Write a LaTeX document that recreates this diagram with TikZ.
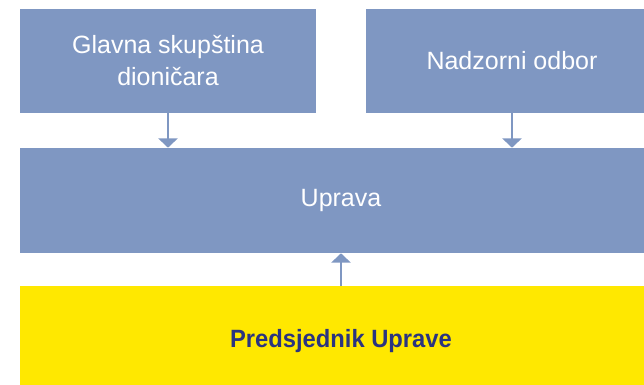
\documentclass[tikz,border=0pt]{standalone}
\usepackage{fontspec}
\setmainfont{Liberation Sans}[BoldFeatures={FakeStretch=0.95}]
\usetikzlibrary{arrows.meta}
\definecolor{boxblue}{RGB}{127,151,194}
\definecolor{boxyellow}{RGB}{255,232,0}
\definecolor{textnavy}{RGB}{43,52,128}

\begin{document}
\begin{tikzpicture}[x=0.75pt,y=-0.75pt,
  orgbox/.style={fill=boxblue,text=white,inner sep=0pt,align=center,
    font=\fontsize{18.75}{24}\selectfont,minimum height=78pt},
  chair/.style={fill=boxyellow,text=textnavy,inner sep=0pt,
    font=\fontsize{18.75}{24}\selectfont\bfseries,minimum height=82.5pt,minimum width=481.5pt},
  conn/.style={draw=boxblue,line width=2pt,-{Triangle[width=14.25pt,length=7pt]}}]
\useasboundingbox (0,0) rectangle (644,385);
\clip (0,0) rectangle (644,385);

\node[orgbox,minimum width=222pt] (gsd) at (168,61) {Glavna skupština\\dioničara};
\node[orgbox,minimum width=219pt] (nadzor) at (512,61) {Nadzorni odbor};
\node[orgbox,minimum width=481.5pt,minimum height=78.75pt] (uprava) at (341,200.5) {Uprava};
\node[chair] (pred) at (341,341) {Predsjednik Uprave};

\draw[conn] (gsd.south) -- (gsd.south |- uprava.north);
\draw[conn] (nadzor.south) -- (nadzor.south |- uprava.north);
\draw[conn] (pred.north) -- (uprava.south);
\end{tikzpicture}
\end{document}
